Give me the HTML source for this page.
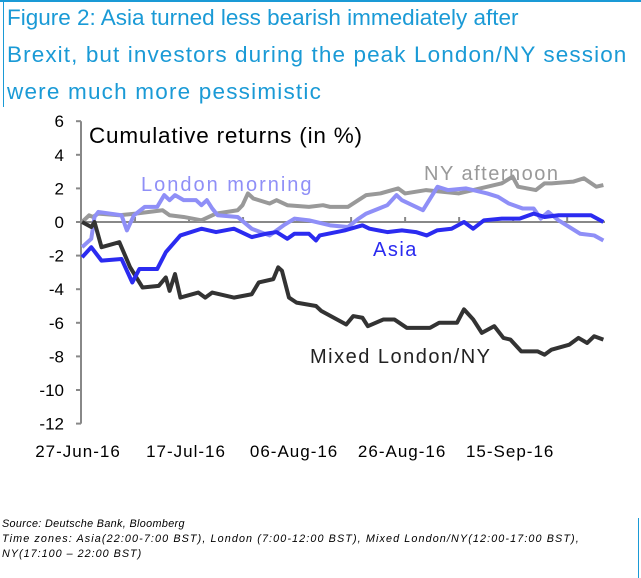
<!DOCTYPE html>
<html><head><meta charset="utf-8"><style>
body{margin:0;background:#fff;width:641px;height:578px;overflow:hidden;position:relative;font-family:"Liberation Sans",sans-serif}
.t{position:absolute;left:7px;color:#1a9ad6;font-size:22.5px;white-space:nowrap}
.f{position:absolute;left:2px;font-size:10.8px;font-style:italic;color:#000;white-space:nowrap}
</style></head><body>
<div style="position:absolute;left:0;top:0;width:641px;height:2px;background:#1a9ad6"></div>
<div style="position:absolute;left:3px;top:0;width:1px;height:107px;background:#1a9ad6"></div>
<div style="position:absolute;left:638px;top:518px;width:1px;height:60px;background:#1a9ad6"></div>
<div class="t" style="top:5px">Figure 2: Asia turned less bearish immediately after</div>
<div class="t" style="top:42px;letter-spacing:1.1px">Brexit, but investors during the peak London/NY session</div>
<div class="t" style="top:79px;letter-spacing:1.2px">were much more pessimistic</div>
<svg id="c" width="641" height="500" style="position:absolute;left:0;top:0"></svg>
<div class="f" style="top:518px;letter-spacing:0.35px">Source: Deutsche Bank, Bloomberg</div>
<div class="f" style="top:533px;letter-spacing:1.1px">Time zones: Asia(22:00-7:00 BST), London (7:00-12:00 BST), Mixed London/NY(12:00-17:00 BST),</div>
<div class="f" style="top:548px;letter-spacing:1px">NY(17:100 – 22:00 BST)</div>
<script>
const yTicks=[6,4,2,0,-2,-4,-6,-8,-10,-12];
const xTickLabels=["27-Jun-16","17-Jul-16","06-Aug-16","26-Aug-16","15-Sep-16"];
const xTickDays=[0,20,40,60,80];
const mixedDays=[0.2,1.9,2.5,3.8,7.1,9.1,11.4,14.4,15.7,16.4,17.4,18.4,21.7,23,24.3,28.3,31.6,32.9,35.6,36.5,37.2,38.5,39.9,43.5,44.5,49.1,50.4,52.1,53.1,56,58,60.3,64.6,66.3,69.6,70.9,72.6,74.2,76.5,78.2,79.5,81.5,84.5,85.8,87.1,90.4,92.1,93.7,95,96.7];
const mixedVals=[0,-0.3,0,-1.5,-1.2,-2.7,-3.9,-3.8,-3.3,-4.1,-3.1,-4.5,-4.2,-4.5,-4.2,-4.5,-4.3,-3.6,-3.4,-2.7,-2.9,-4.5,-4.8,-5.0,-5.3,-6.1,-5.6,-5.7,-6.2,-5.8,-5.8,-6.3,-6.3,-6.0,-6.0,-5.2,-5.8,-6.6,-6.2,-6.9,-7.0,-7.7,-7.7,-7.9,-7.6,-7.3,-6.9,-7.2,-6.8,-7.0];
const asiaDays=[0.2,1.9,3.8,7.5,9.5,10.8,14.1,15.7,18.4,22.3,25,28.3,31.6,34.2,36.2,38.2,39.5,42.2,43.5,44.2,48.8,52.1,53.4,56.7,59.4,62,64,65.9,68.6,70.9,72.6,74.6,77.9,81.2,83.8,85.8,88.4,91.1,94.4,96.7];
const asiaVals=[-2.1,-1.5,-2.3,-2.2,-3.6,-2.8,-2.8,-1.8,-0.8,-0.4,-0.6,-0.4,-0.9,-0.7,-0.6,-1.0,-0.7,-0.7,-1.1,-0.8,-0.5,-0.2,-0.4,-0.6,-0.5,-0.6,-0.8,-0.5,-0.4,0,-0.4,0.1,0.2,0.2,0.5,0.3,0.4,0.4,0.4,0];
const londonDays=[0.2,1.9,2.5,3.2,7.5,8.5,9.8,11.8,14.1,15.4,16.4,17.4,19,21.3,22.3,23.3,24.3,25.3,29,31.6,34.9,37.5,39.5,42.2,46.1,49.4,51.4,52.8,56.7,58.4,59.4,63.3,66,67.9,71.3,75.2,77.2,79.2,81.8,83.8,85.1,86.5,88.4,92.4,95,96.7];
const londonVals=[-1.5,-1.0,0.3,0.6,0.4,-0.5,0.4,0.9,0.9,1.6,1.3,1.6,1.3,1.3,1.0,1.3,0.8,0.4,0.3,-0.4,-0.8,-0.2,0.2,0.1,-0.2,-0.3,0.2,0.5,1.0,1.6,1.3,0.7,2.1,1.9,2.0,1.7,1.5,1.1,0.8,0.8,0.2,0.6,0.1,-0.7,-0.8,-1.1];
const nyDays=[0.2,1.5,2.2,3.2,7.1,10.1,15.1,16.4,19,22.3,25,29,29.9,30.9,31.9,34.9,36.2,38.2,42.2,44.8,46.1,49.4,52.8,55.4,58.7,60,63.9,69.9,72.6,77.9,79.9,80.9,84.2,85.8,87.1,91.1,93.1,95.4,96.7];
const nyVals=[0,0.4,0.3,0.5,0.4,0.5,0.7,0.4,0.3,0.1,0.5,0.7,1.0,1.7,1.4,1.1,1.3,1.0,0.9,1.0,0.9,0.9,1.6,1.7,2.0,1.7,1.9,1.7,1.9,2.3,2.7,2.1,1.9,2.3,2.3,2.4,2.6,2.1,2.2];

const svg=document.getElementById('c'),NS='http://www.w3.org/2000/svg';
const X=d=>81+d*(524/97), Y=v=>222-v*16.8;
function mk(t,a,p){const e=document.createElementNS(NS,t);for(const k in a)e.setAttribute(k,a[k]);(p||svg).appendChild(e);return e;}
const ax=mk('line',{x1:81,y1:Y(6),x2:81,y2:Y(-12),stroke:'#888','stroke-width':2});


yTicks.forEach(v=>{
  const tk=mk('line',{x1:76,x2:81,y1:Y(v),y2:Y(v),stroke:'#888','stroke-width':2});
  
  
  const t=mk('text',{x:64,y:Y(v)+6,'text-anchor':'end','font-size':17,fill:'#000'});
  
  
  t.textContent=v;
});
const zl=mk('line',{x1:81,x2:605,y1:Y(0),y2:Y(0),stroke:'#888','stroke-width':2});


for(let d=10;d<97;d+=10){
  const tk=mk('line',{x1:X(d),x2:X(d),y1:Y(0),y2:Y(0)-5,stroke:'#888','stroke-width':2});
  
  
}
xTickLabels.forEach((s,i)=>{
  const t=mk('text',{x:X(xTickDays[i])-3,y:457,'text-anchor':'middle','font-size':17,fill:'#000','letter-spacing':1});
  
  
  t.textContent=s;
});
function series(days,vals,col,name){
  const p=mk('polyline',{points:days.map((d,i)=>X(d)+','+Y(vals[i])).join(' '),fill:'none',stroke:col,'stroke-width':4,'stroke-linejoin':'round'});
  
  
}
series(nyDays,nyVals,'#999999','ny-afternoon-line');
series(londonDays,londonVals,'#8f8ff7','london-morning-line');
series(mixedDays,mixedVals,'#333333','mixed-london-ny-line');
series(asiaDays,asiaVals,'#2b2bf0','asia-line');
function lab(x,y,s,col,size,ls,name){
  const t=mk('text',{x:x,y:y,'font-size':size,fill:col,'letter-spacing':ls});
  
  
  t.textContent=s;
}
lab(89,143,'Cumulative returns (in %)','#000',22.5,0.8,'chart-subtitle');
lab(141,191,'London morning','#8f8ff7',20,2,'london-morning-label');
lab(424,180,'NY afternoon','#999999',20,1.5,'ny-afternoon-label');
lab(373,256,'Asia','#2b2bf0',20,1.5,'asia-label');
lab(310,363,'Mixed London/NY','#222',20,1.5,'mixed-london-ny-label');
</script>
</body></html>
